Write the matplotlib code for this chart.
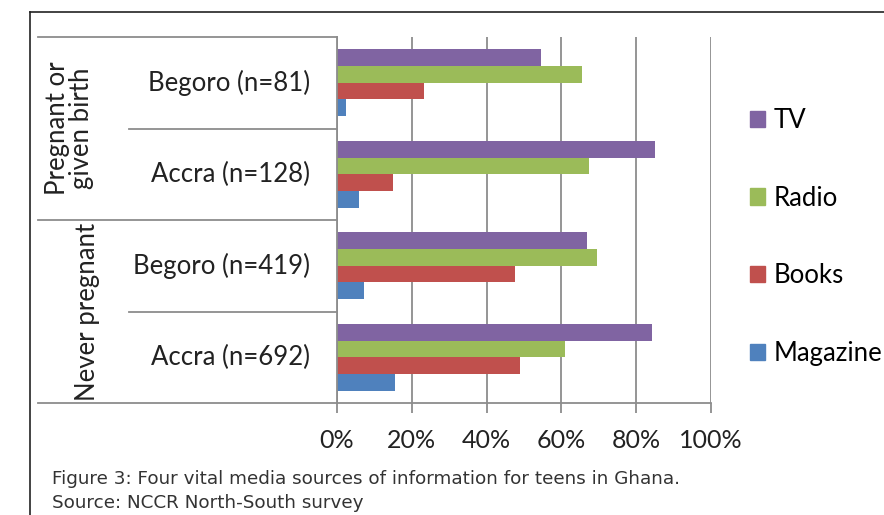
import matplotlib.pyplot as plt
from matplotlib.patches import Patch
from matplotlib.lines import Line2D
import numpy as np

# data (percent of respondents)
sites = ["Begoro (n=81)", "Accra (n=128)", "Begoro (n=419)", "Accra (n=692)"]
groups = ["Pregnant or\ngiven birth", "Never pregnant"]
media = ["TV", "Radio", "Books", "Magazine"]
tv = [54.5, 85.1, 66.8, 84.2]
radio = [65.5, 67.3, 69.6, 61.0]
books = [23.3, 15.1, 47.7, 49.0]
magazine = [2.3, 6.0, 7.3, 15.6]
colors = ["#8064A2", "#9BBB59", "#C0504D", "#4F81BD"]
xticks = [0, 20, 40, 60, 80, 100]

W, H = 884, 515
fig = plt.figure(figsize=(W / 100, H / 100), dpi=100)
ax = fig.add_axes([337 / W, 1 - 403 / H, (711 - 337) / W, (403 - 37) / H])

chart_font = "Lato"
fs = 18.5
grey = "#8c8c8c"
txt = "#222222"

y = np.arange(len(sites))
h = 0.182
series = [tv, radio, books, magazine]
for k, (vals, c, name) in enumerate(zip(series, colors, media)):
    ax.barh(y + (k - 1.5) * h, vals, height=h, color=c, label=name, linewidth=0)

ax.set_xlim(0, 100)
ax.set_ylim(3.5, -0.5)
ax.set_xticks(xticks)
ax.set_xticklabels([f"{t}%" for t in xticks], fontfamily=chart_font, fontsize=fs - 0.5, color=txt)
ax.set_yticks([])
ax.xaxis.grid(True, color=grey, linewidth=1.3)
ax.set_axisbelow(True)
ax.tick_params(axis="x", length=7, width=1.3, color=grey, pad=12)
for s in ["top", "right"]:
    ax.spines[s].set_visible(False)
for s in ["left", "bottom"]:
    ax.spines[s].set_color(grey)
    ax.spines[s].set_linewidth(1.3)

# multi-level category axis on the left
tr = ax.get_yaxis_transform()
x_outer = (38 - 337) / 374
x_inner = (129 - 337) / 374
for yy in [-0.5, 1.5, 3.5]:
    ax.plot([x_outer, 0], [yy, yy], transform=tr, color=grey, lw=1.3, clip_on=False)
for yy in [0.5, 2.5]:
    ax.plot([x_inner, 0], [yy, yy], transform=tr, color=grey, lw=1.3, clip_on=False)

x_lab = (310 - 337) / 374
for i, s in enumerate(sites):
    ax.text(x_lab, i, s, transform=tr, ha="right", va="center",
            fontfamily=chart_font, fontsize=fs, color=txt)
ax.text((70 - 337) / 374, 0.5, groups[0], transform=tr, ha="center", va="center",
        rotation=90, fontfamily=chart_font, fontsize=fs, color=txt, linespacing=0.95)
ax.text((88 - 337) / 374, 2.5, groups[1], transform=tr, ha="center", va="center",
        rotation=90, fontfamily=chart_font, fontsize=fs, color=txt)

handles = [Patch(color=c, label=m) for c, m in zip(colors, media)]
fig.legend(handles=handles, loc="center left", bbox_to_anchor=(750 / W, 1 - 237 / H),
           frameon=False, borderpad=0, borderaxespad=0, handlelength=0.6, handleheight=0.6,
           handletextpad=0.3, labelspacing=2.05,
           prop={"family": chart_font, "size": fs})

# outer frame (top and left edges)
fig.add_artist(Line2D([30 / W, 1], [1 - 11.5 / H, 1 - 11.5 / H], transform=fig.transFigure,
                      color=txt, lw=1.2))
fig.add_artist(Line2D([30 / W, 30 / W], [1 - 11.5 / H, 0], transform=fig.transFigure,
                      color=txt, lw=1.2))

fig.text(52 / W, 1 - 479 / H, "Figure 3: Four vital media sources of information for teens in Ghana.",
         ha="left", va="center", fontfamily="DejaVu Sans", fontsize=13.2, color="#333333")
fig.text(52 / W, 1 - 503 / H, "Source: NCCR North-South survey",
         ha="left", va="center", fontfamily="DejaVu Sans", fontsize=13.2, color="#333333")

fig.savefig("out.png", dpi=100)
